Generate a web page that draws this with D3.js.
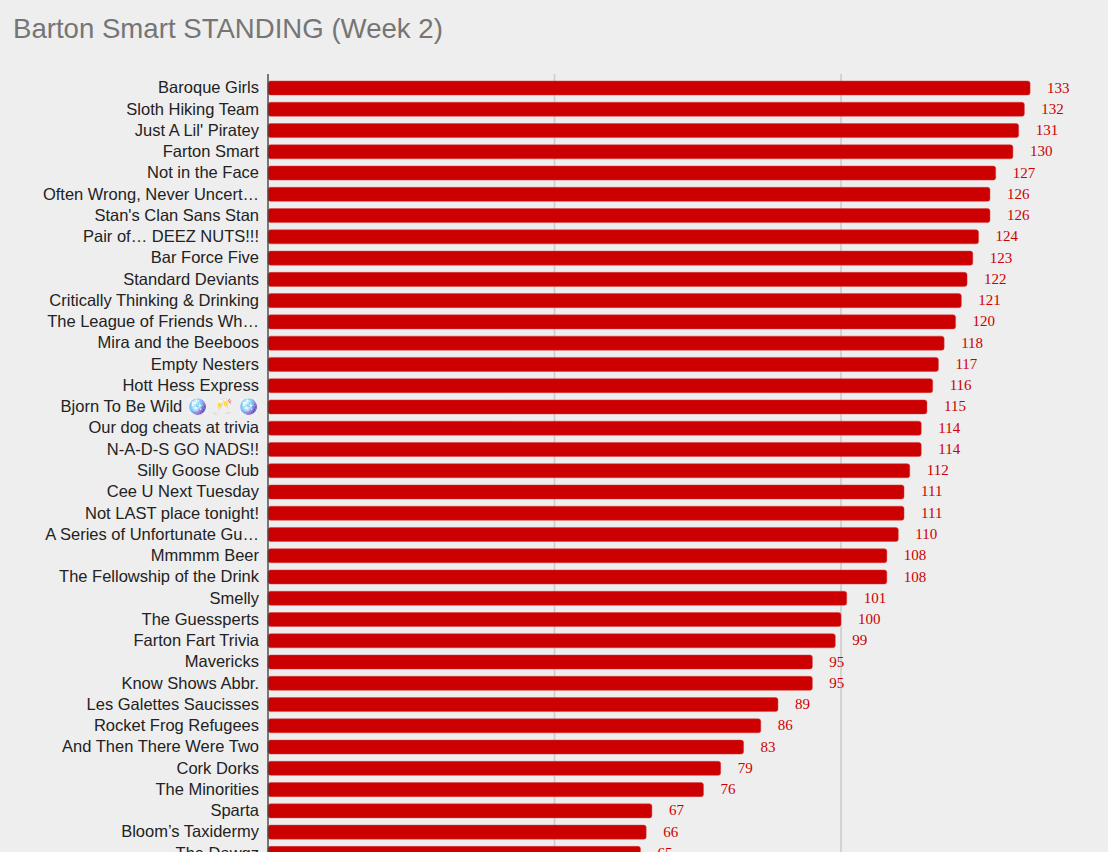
<!DOCTYPE html>
<html>
<head>
<meta charset="utf-8">
<script src="https://cdn.jsdelivr.net/npm/d3@7"></script>
<style>
  html, body { margin: 0; padding: 0; background: #eeeeee; overflow: hidden; }
  svg { display: block; }
</style>
</head>
<body>
<div id="chart-container"><svg></svg></div>
<script>
// Team names, in ranking order
const teams = [
    "Baroque Girls", "Sloth Hiking Team", "Just A Lil' Piratey", "Farton Smart",
    "Not in the Face", "Often Wrong, Never Uncert\u2026", "Stan's Clan Sans Stan",
    "Pair of\u2026 DEEZ NUTS!!!", "Bar Force Five", "Standard Deviants",
    "Critically Thinking & Drinking", "The League of Friends Wh\u2026",
    "Mira and the Beeboos", "Empty Nesters", "Hott Hess Express",
    "Bjorn To Be Wild \u{1FAA9} \u{1F942} \u{1FAA9}", "Our dog cheats at trivia",
    "N-A-D-S GO NADS!!", "Silly Goose Club", "Cee U Next Tuesday",
    "Not LAST place tonight!", "A Series of Unfortunate Gu\u2026", "Mmmmm Beer",
    "The Fellowship of the Drink", "Smelly", "The Guessperts", "Farton Fart Trivia",
    "Mavericks", "Know Shows Abbr.", "Les Galettes Saucisses", "Rocket Frog Refugees",
    "And Then There Were Two", "Cork Dorks", "The Minorities", "Sparta",
    "Bloom\u2019s Taxidermy", "The Dawgz"
];

// Points after week 2
const points = [
    133, 132, 131, 130, 127, 126, 126, 124, 123, 122,
    121, 120, 118, 117, 116, 115, 114, 114, 112, 111,
    111, 110, 108, 108, 101, 100, 99, 95, 95, 89,
    86, 83, 79, 76, 67, 66, 65
];

const gridTicks = [50, 100, 150];
const title = "Barton Smart STANDING (Week 2)";

const svgWidth = 1108;
const svgHeight = 852;

const svg = d3.select("#chart-container svg")
    .attr("width", svgWidth)
    .attr("height", svgHeight);

// Title
svg.append("text")
    .attr("x", 13)
    .attr("y", 38)
    .attr("font-family", "Liberation Sans, Arial, sans-serif")
    .attr("font-size", 27.6)
    .attr("fill", "#757575")
    .text(title);

// Scales
const xScale = d3.scaleLinear()
    .domain([0, 150])
    .range([268, 268 + 150 * 5.73]);

const step = 21.26;
const yScale = d3.scaleBand()
    .domain(d3.range(teams.length))
    .range([77.4, 77.4 + teams.length * step])
    .paddingInner(0.34)
    .paddingOuter(0.17);

// Gridlines
svg.append("g")
    .selectAll("line")
    .data(gridTicks)
    .enter()
    .append("line")
    .attr("x1", d => xScale(d))
    .attr("x2", d => xScale(d))
    .attr("y1", 74)
    .attr("y2", svgHeight + 40)
    .attr("stroke", "#cccccc")
    .attr("stroke-width", 1.6);

// Bars
svg.append("g")
    .selectAll("rect")
    .data(points)
    .enter()
    .append("rect")
    .attr("x", xScale(0))
    .attr("y", (d, i) => yScale(i))
    .attr("width", d => xScale(d) - xScale(0))
    .attr("height", yScale.bandwidth())
    .attr("rx", 2.5)
    .attr("fill", "#cc0000")
    .attr("stroke", "rgba(214,60,60,0.6)")
    .attr("stroke-width", 0.8);

// Value labels
svg.append("g")
    .selectAll("text")
    .data(points)
    .enter()
    .append("text")
    .attr("x", d => xScale(d) + 17)
    .attr("y", (d, i) => yScale(i) + yScale.bandwidth() / 2)
    .attr("dy", "0.3em")
    .attr("font-family", "Liberation Serif, Times New Roman, serif")
    .attr("font-size", 15)
    .attr("fill", "#cc0000")
    .text(d => d);

// Category axis
const yAxis = d3.axisLeft(yScale)
    .tickSize(0)
    .tickPadding(9)
    .tickFormat(i => teams[i]);

const axisG = svg.append("g")
    .attr("transform", `translate(${xScale(0)},0)`)
    .call(yAxis);

axisG.select(".domain").remove();
axisG.selectAll("text")
    .attr("font-family", "Liberation Sans, Arial, sans-serif")
    .attr("font-size", 16.5)
    .attr("fill", "#222222");

svg.append("line")
    .attr("x1", xScale(0))
    .attr("x2", xScale(0))
    .attr("y1", 74)
    .attr("y2", svgHeight + 40)
    .attr("stroke", "#444444")
    .attr("stroke-width", 1.4);
</script>
</body>
</html>
